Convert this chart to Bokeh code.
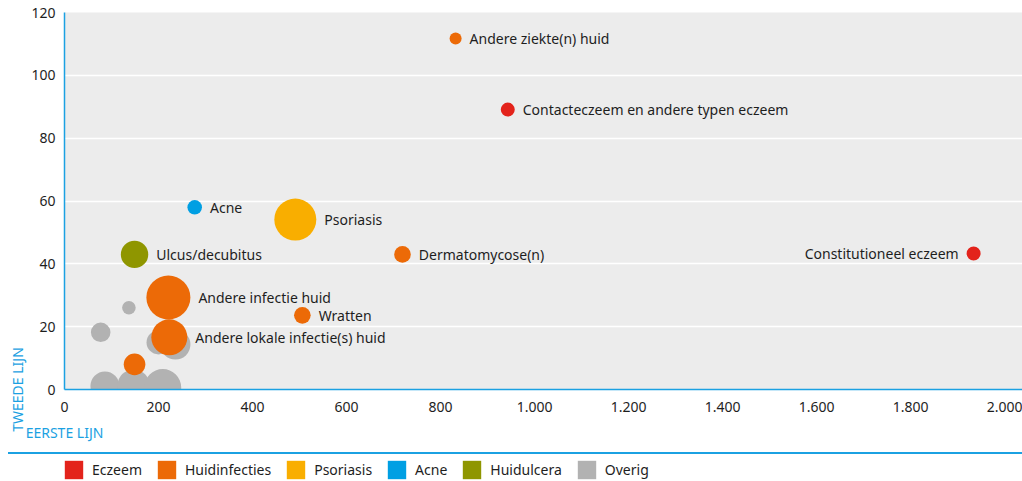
import math
from bokeh.plotting import figure
from bokeh.models import (ColumnDataSource, Range1d, FixedTicker, CustomJSTickFormatter,
                          Legend, LegendItem, Div)
from bokeh.models.axes import Axis
from bokeh.layouts import column
from bokeh.embed import file_html
from bokeh.resources import INLINE
from bokeh.core.properties import value

# ---------------- data ----------------
groepen = ["Eczeem", "Huidinfecties", "Psoriasis", "Acne", "Huidulcera", "Overig"]
kleuren = ["#e3231b", "#ec6a07", "#f9ae00", "#009fe3", "#8f9600", "#b2b2b2"]

namen = ["", "", "", "", "", "", "",
         "Andere ziekte(n) huid", "Contacteczeem en andere typen eczeem",
         "Constitutioneel eczeem", "Acne", "Psoriasis", "Dermatomycose(n)",
         "Ulcus/decubitus", "Andere infectie huid", "Wratten",
         "Andere lokale infectie(s) huid", ""]
groep = ["Overig", "Overig", "Overig", "Overig", "Overig", "Overig", "Overig",
         "Huidinfecties", "Eczeem", "Eczeem", "Acne", "Psoriasis", "Huidinfecties",
         "Huidulcera", "Huidinfecties", "Huidinfecties", "Huidinfecties", "Huidinfecties"]
eerste_lijn = [137, 77, 200, 236, 86, 147, 209,
               832, 943, 1934, 277, 491, 719, 149, 221, 506, 223, 149]
tweede_lijn = [26.0, 18.2, 15.0, 14.3, 1.1, 1.3, 0.6,
               111.7, 89.1, 43.3, 58.0, 54.1, 43.0, 43.0, 29.3, 23.6, 16.6, 8.0]
grootte = [46, 96, 144, 225, 210, 256, 342,
           36, 49, 49, 53, 441, 69, 188, 484, 69, 324, 117]

x_ticks = [0, 200, 400, 600, 800, 1000, 1200, 1400, 1600, 1800, 2000]
y_ticks = [0, 20, 40, 60, 80, 100, 120]
x_titel = "EERSTE LIJN"
y_titel = "TWEEDE LIJN"

# ---------------- style ----------------
FONT = "Noto Sans"
AXIS_BLUE = "#1ba1e2"
TXT = "#1e1e1e"
X_END = 2038

kleur_map = dict(zip(groepen, kleuren))
diam = [2 * math.sqrt(g) for g in grootte]
src = ColumnDataSource(dict(x=eerste_lijn, y=tweede_lijn, size=diam,
                            color=[kleur_map[g] for g in groep]))

lab_idx = [i for i, n in enumerate(namen) if n]
links = [eerste_lijn[i] > 0.75 * X_END for i in lab_idx]
lab_src = ColumnDataSource(dict(
    x=[eerste_lijn[i] for i in lab_idx],
    y=[tweede_lijn[i] for i in lab_idx],
    text=[namen[i] for i in lab_idx],
    xo=[(-1 if l else 1) * (diam[i] / 2 + 8) for i, l in zip(lab_idx, links)],
    align=["right" if l else "left" for l in links],
))

p = figure(width=1022, height=445, x_range=Range1d(0, X_END), y_range=Range1d(0, 120),
           output_backend="svg", toolbar_location=None,
           min_border_left=64, min_border_right=0, min_border_top=12, min_border_bottom=56,
           background_fill_color="#ececec", border_fill_color="white",
           outline_line_color=None)

p.xgrid.visible = False
p.ygrid.grid_line_color = "white"
p.ygrid.grid_line_width = 1.3
p.ygrid.ticker = FixedTicker(ticks=y_ticks)

p.xaxis.ticker = FixedTicker(ticks=x_ticks)
p.yaxis.ticker = FixedTicker(ticks=y_ticks)
p.xaxis.formatter = CustomJSTickFormatter(
    code="return Math.round(tick).toString().replace(/\\B(?=(\\d{3})+(?!\\d))/g, '.');")
for ax in (p.xaxis, p.yaxis):
    ax.axis_line_color = AXIS_BLUE
    ax.axis_line_width = 1.5
    ax.major_tick_line_color = None
    ax.minor_tick_line_color = None
    ax.major_tick_out = 0
    ax.major_tick_in = 0
    ax.minor_tick_out = 0
    ax.minor_tick_in = 0
    ax.major_label_text_font = FONT
    ax.major_label_text_font_size = "14px"
    ax.major_label_text_color = TXT
    ax.axis_label_text_font = FONT
    ax.axis_label_text_font_size = "14px"
    ax.axis_label_text_font_style = "normal"
    ax.axis_label_text_color = AXIS_BLUE
p.xaxis.major_label_standoff = 12
p.yaxis.major_label_standoff = 9
p.xaxis.axis_label = x_titel
p.yaxis.axis_label = y_titel
p.xaxis.axis_label_standoff = 8
p.yaxis.axis_label_standoff = 1
if hasattr(Axis, "axis_label_align"):
    p.xaxis.axis_label_align = "start"
    p.yaxis.axis_label_align = "start"

p.scatter("x", "y", size="size", source=src, fill_color="color", line_color=None,
          marker="circle")
p.text("x", "y", text="text", x_offset="xo", text_align="align", source=lab_src,
       text_baseline="middle", text_font=value(FONT), text_font_size="14px",
       text_color=TXT)

# ---------------- separator + legend strip ----------------
sep = Div(text="", width=1014, height=2, margin=(7, 0, 0, 8),
          styles={"background-color": AXIS_BLUE})

leg = figure(width=1022, height=27, x_range=Range1d(0, 1), y_range=Range1d(0, 1),
             output_backend="svg", toolbar_location=None,
             min_border_left=64, min_border_right=0, min_border_top=0, min_border_bottom=0,
             outline_line_color=None, x_axis_type=None, y_axis_type=None)
leg.grid.visible = False
items = []
nan = float("nan")
for g, c in zip(groepen, kleuren):
    r = leg.quad(left=[nan], right=[nan], top=[nan], bottom=[nan],
                 fill_color=c, line_color=None)
    items.append(LegendItem(label=g, renderers=[r]))
legend = Legend(items=items, orientation="horizontal", location=(-2, 0), padding=0,
                margin=0, spacing=13, glyph_width=23, glyph_height=23, label_standoff=7,
                label_height=23, border_line_color=None, background_fill_alpha=0,
                label_text_font=FONT, label_text_font_size="14px", label_text_color=TXT)
leg.add_layout(legend)

layout = column(p, sep, leg, spacing=0)
open("out.html", "w").write(file_html(layout, INLINE))
